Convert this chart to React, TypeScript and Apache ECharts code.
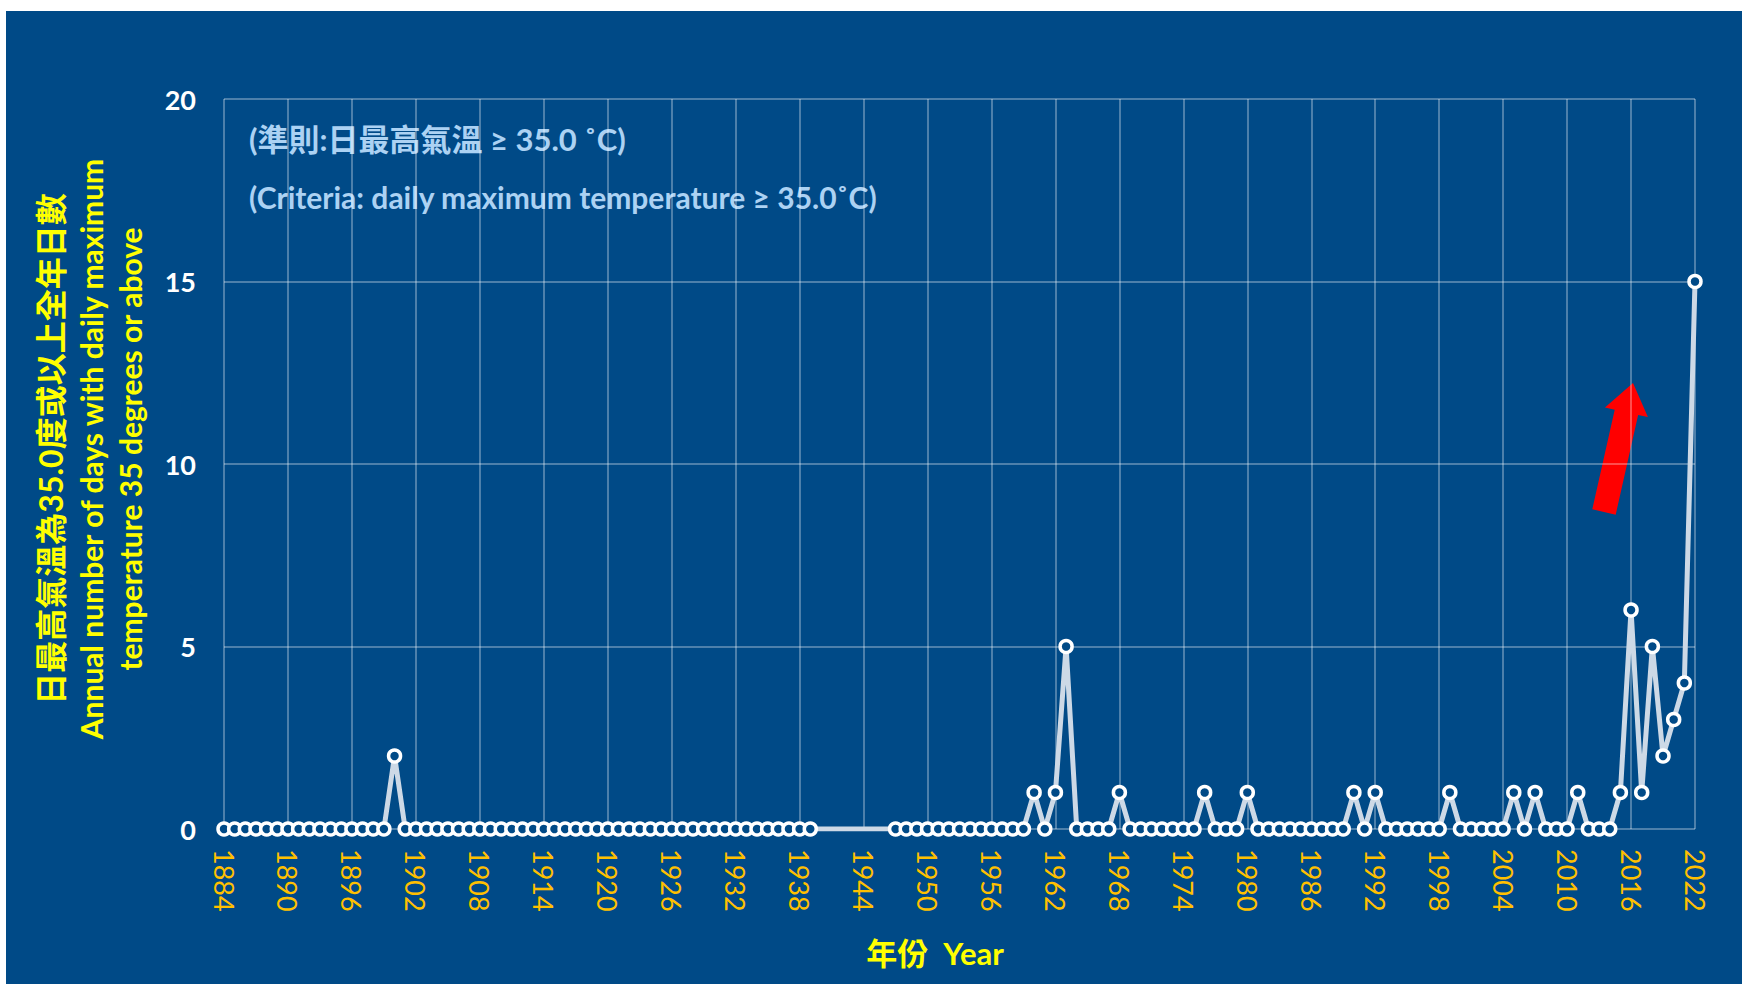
import React, { useEffect, useRef } from "react";
import * as echarts from "echarts";

// ---- data ----
const FIRST_YEAR = 1884;
// Annual number of days with daily maximum temperature >= 35.0 C, 1884-2022 (null = no record)
const VALUES: (number | null)[] = [
  0, 0, 0, 0, 0, 0, // 1884-1889
  0, 0, 0, 0, 0, 0, 0, 0, 0, 0, // 1890s
  2, 0, 0, 0, 0, 0, 0, 0, 0, 0, // 1900s
  0, 0, 0, 0, 0, 0, 0, 0, 0, 0, // 1910s
  0, 0, 0, 0, 0, 0, 0, 0, 0, 0, // 1920s
  0, 0, 0, 0, 0, 0, 0, 0, 0, 0, // 1930s
  null, null, null, null, null, null, null, 0, 0, 0, // 1940s
  0, 0, 0, 0, 0, 0, 0, 0, 0, 0, // 1950s
  1, 0, 1, 5, 0, 0, 0, 0, 1, 0, // 1960s
  0, 0, 0, 0, 0, 0, 1, 0, 0, 0, // 1970s
  1, 0, 0, 0, 0, 0, 0, 0, 0, 0, // 1980s
  1, 0, 1, 0, 0, 0, 0, 0, 0, 1, // 1990s
  0, 0, 0, 0, 0, 1, 0, 1, 0, 0, // 2000s
  0, 1, 0, 0, 0, 1, 6, 1, 5, 2, // 2010s
  3, 4, 15, // 2020-2022
];
const X_MIN = 1884;
const X_MAX = 2022;
const X_STEP = 6;
const Y_MIN = 0;
const Y_MAX = 20;
const Y_STEP = 5;

const NOTE_ZH = "(準則:日最高氣溫 ≥ 35.0 ˚C)";
const NOTE_EN = "(Criteria: daily maximum temperature ≥ 35.0˚C)";
const Y_NAME_LINES = [
  "日最高氣溫為35.0度或以上全年日數",
  "Annual number of days with daily maximum",
  "temperature 35 degrees or above",
];
const X_NAME = "年份  Year";

// ---- layout / style ----
const OX = 6;
const OY = 11;
const W = 1736;
const H = 973;
const BG = "#004a87";
const FONT = 'Lato, "Noto Sans CJK TC", sans-serif';

function arrowPoints(tail: number[], tip: number[], headLen: number, headHW: number, shaftHW: number) {
  const dx = tip[0] - tail[0];
  const dy = tip[1] - tail[1];
  const L = Math.hypot(dx, dy);
  const ux = dx / L, uy = dy / L;
  const nx = -uy, ny = ux;
  const bx = tip[0] - ux * headLen, by = tip[1] - uy * headLen;
  return [
    [tail[0] + nx * shaftHW, tail[1] + ny * shaftHW],
    [bx + nx * shaftHW, by + ny * shaftHW],
    [bx + nx * headHW, by + ny * headHW],
    [tip[0], tip[1]],
    [bx - nx * headHW, by - ny * headHW],
    [bx - nx * shaftHW, by - ny * shaftHW],
    [tail[0] - nx * shaftHW, tail[1] - ny * shaftHW],
  ];
}

export default function App() {
  const ref = useRef<HTMLDivElement>(null);
  useEffect(() => {
    if (!ref.current) return;
    const chart = echarts.init(ref.current, undefined, { renderer: "svg" });
    const data = VALUES.map((v, i) => [FIRST_YEAR + i, v]);
    const yNameX = [50 - OX, 91 - OX, 130 - OX];
    const yNameSize = [32, 30, 30];
    const yNameCenterY = 449 - OY;

    chart.setOption({
      animation: false,
      backgroundColor: BG,
      grid: { left: 218, right: 47, top: 88, bottom: 155, containLabel: false },
      xAxis: {
        type: "value",
        min: X_MIN,
        max: X_MAX,
        interval: X_STEP,
        axisLine: { show: false },
        axisTick: { show: false },
        splitLine: { show: true, lineStyle: { color: "rgba(255,255,255,0.3)", width: 2 } },
        axisLabel: {
          rotate: -90,
          margin: 20,
          color: "#ffc000",
          fontFamily: FONT,
          fontSize: 27,
          formatter: (v: number) => String(v),
        },
      },
      yAxis: {
        type: "value",
        min: Y_MIN,
        max: Y_MAX,
        interval: Y_STEP,
        axisLine: { show: false },
        axisTick: { show: false },
        splitLine: { show: true, lineStyle: { color: "rgba(255,255,255,0.3)", width: 2 } },
        axisLabel: {
          margin: 28,
          color: "#ffffff",
          fontFamily: FONT,
          fontWeight: "bold",
          fontSize: 27,
        },
      },
      series: [
        {
          type: "line",
          data,
          connectNulls: true,
          symbol: "circle",
          symbolSize: 12,
          showAllSymbol: true,
          lineStyle: { color: "#cdd9e6", width: 5 },
          itemStyle: { color: BG, borderColor: "#ffffff", borderWidth: 3.5 },
        },
      ],
      graphic: [
        {
          type: "text",
          x: 249 - OX,
          y: 139 - OY,
          style: {
            text: NOTE_ZH,
            fill: "#acd2f3",
            fontFamily: FONT,
            fontWeight: "bold",
            fontSize: 31,
            align: "left",
            verticalAlign: "middle",
          },
        },
        {
          type: "text",
          x: 249 - OX,
          y: 197 - OY,
          style: {
            text: NOTE_EN,
            fill: "#acd2f3",
            fontFamily: FONT,
            fontWeight: "bold",
            fontSize: 30,
            align: "left",
            verticalAlign: "middle",
          },
        },
        ...Y_NAME_LINES.map((t, i) => ({
          type: "text",
          x: yNameX[i],
          y: yNameCenterY,
          rotation: Math.PI / 2,
          style: {
            text: t,
            fill: "#ffff00",
            fontFamily: FONT,
            fontWeight: "bold",
            fontSize: yNameSize[i],
            align: "center",
            verticalAlign: "middle",
          },
        })),
        {
          type: "text",
          x: 935 - OX,
          y: 953 - OY,
          style: {
            text: X_NAME,
            fill: "#ffff00",
            fontFamily: FONT,
            fontWeight: "bold",
            fontSize: 31,
            align: "center",
            verticalAlign: "middle",
          },
        },
        {
          type: "polygon",
          shape: {
            points: arrowPoints([1604 - OX, 512 - OY], [1633 - OX, 383 - OY], 30, 22, 12),
          },
          style: { fill: "#ff0000" },
        },
      ],
    });
    return () => chart.dispose();
  }, []);

  return (
    <div style={{ position: "fixed", left: 0, top: 0, width: 1742, height: 984, background: "#ffffff" }}>
      <div ref={ref} style={{ position: "absolute", left: OX, top: OY, width: W, height: H }} />
    </div>
  );
}
